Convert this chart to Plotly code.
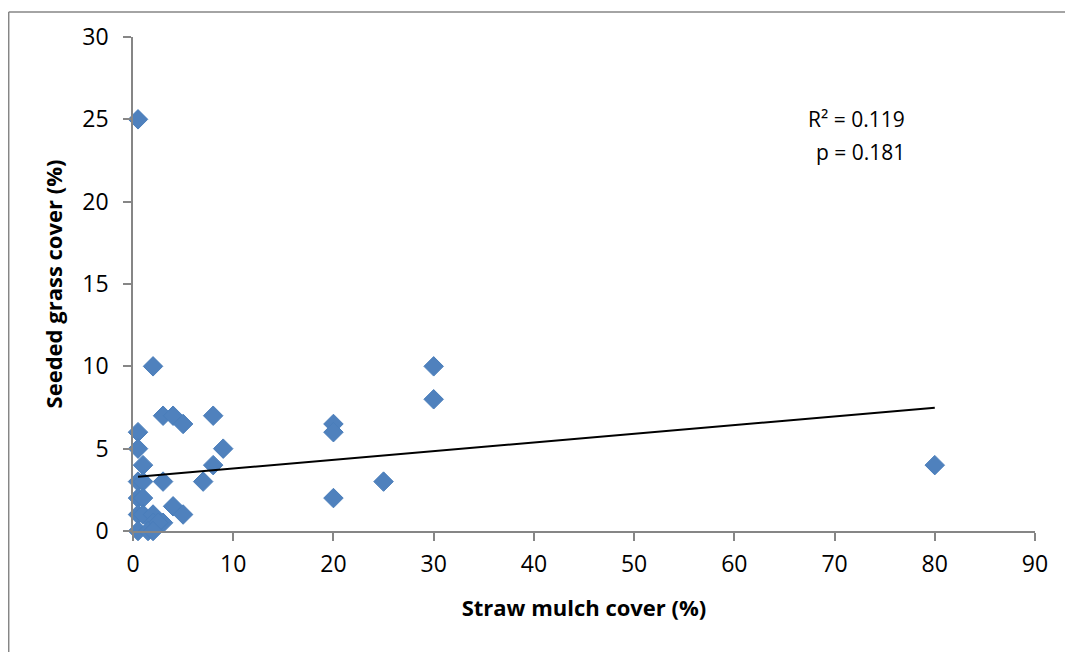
import plotly.graph_objects as go

# Straw mulch cover (%) vs seeded grass cover (%)
mulch = [0.5, 2, 30, 30, 3, 4, 8, 5, 20, 20, 0.5, 0.5, 9, 1, 8, 80,
         0.5, 1, 3, 7, 25, 0.5, 1, 20, 4, 5, 0.5, 1, 2, 2, 3, 2.5,
         0.5, 1.5, 2]
grass = [25, 10, 10, 8, 7, 7, 7, 6.5, 6.5, 6, 6, 5, 5, 4, 4, 4,
         3, 3, 3, 3, 3, 2, 2, 2, 1.5, 1, 1, 1, 1, 0.5, 0.5, 0.5,
         0, 0, 0]

trend_x = [0.5, 80]
trend_y = [3.3, 7.48]

x_ticks = [0, 10, 20, 30, 40, 50, 60, 70, 80, 90]
y_ticks = [0, 5, 10, 15, 20, 25, 30]

fig = go.Figure()
fig.add_trace(go.Scatter(
    x=mulch, y=grass, mode="markers",
    marker=dict(symbol="diamond", size=15, color="#4F81BD",
                line=dict(color="#4A7EBB", width=1)),
    showlegend=False, cliponaxis=False))
fig.add_trace(go.Scatter(
    x=trend_x, y=trend_y, mode="lines",
    line=dict(color="black", width=2), showlegend=False))

axis_common = dict(showgrid=False, zeroline=False, showline=True,
                   linecolor="#868686", linewidth=1.5, ticks="outside",
                   ticklen=8, tickwidth=1.5, tickcolor="#868686",
                   tickfont=dict(family="Open Sans", size=23, color="black"))

fig.update_xaxes(range=[0, 90], tickvals=x_ticks, ticklabelstandoff=4,
                 title=dict(text="<b>Straw mulch cover (%)</b>",
                            font=dict(family="Open Sans", size=22, color="black"),
                            standoff=22),
                 **axis_common)
fig.update_yaxes(range=[0, 30], tickvals=y_ticks, ticklabelstandoff=10,
                 title=dict(text="<b>Seeded grass cover (%)</b>",
                            font=dict(family="Open Sans", size=22, color="black"),
                            standoff=14),
                 **axis_common)

fig.add_annotation(x=77.2, y=25.05, xref="x", yref="y",
                   text="R² = 0.119", showarrow=False,
                   xanchor="right", yanchor="middle",
                   font=dict(family="Open Sans", size=21, color="black"))
fig.add_annotation(x=77.2, y=23.0, xref="x", yref="y",
                   text="p = 0.181", showarrow=False,
                   xanchor="right", yanchor="middle",
                   font=dict(family="Open Sans", size=21, color="black"))

# outer chart frame: only left and top edges are visible in the reference
frame_style = dict(color="#868686", width=1.5)
fig.add_shape(type="line", xref="paper", yref="paper",
              x0=-0.1378, x1=-0.1378, y0=-0.3, y1=1.0508, line=frame_style)
fig.add_shape(type="line", xref="paper", yref="paper",
              x0=-0.1378, x1=1.2, y0=1.0508, y1=1.0508, line=frame_style)

fig.update_layout(width=1065, height=644,
                  margin=dict(l=125, r=38, t=26, b=121),
                  plot_bgcolor="white", paper_bgcolor="white")

fig.write_html("out.html", config={"displayModeBar": False})
